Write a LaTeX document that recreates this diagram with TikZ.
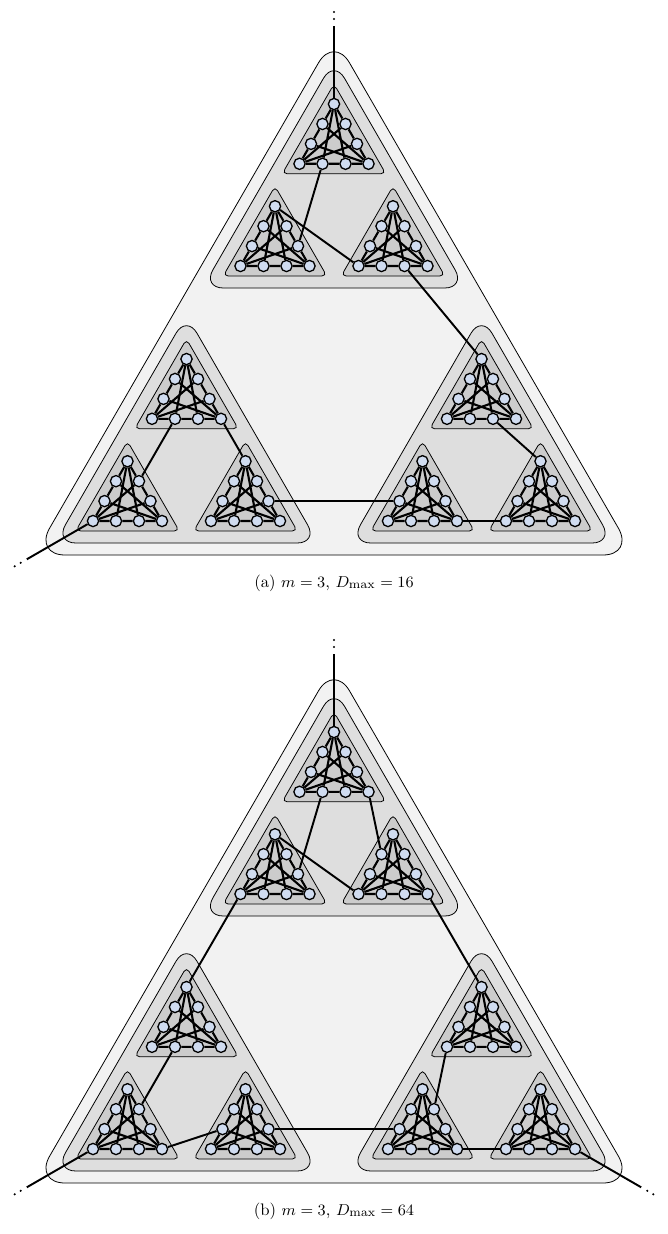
\documentclass[tikz,border=0pt]{standalone}
\usepackage{amsmath}
\usepackage{xcolor}
\definecolor{vertexblue}{RGB}{208,220,240}
\tikzset{
  vertexnode/.style={circle,draw=black,fill=vertexblue,line width=0.75pt,
    minimum size=0.225cm,inner sep=0pt},
  graphedge/.style={line width=1.2pt,black},
  linkedge/.style={line width=1.1pt,black},
  cellbox/.style={draw=black,line width=0.45pt,fill=black!20,rounded corners=0.1cm},
  groupbox/.style={draw=black,line width=0.45pt,fill=black!13,rounded corners=0.42cm},
  outerbox/.style={draw=black,line width=0.45pt,fill=black!5,rounded corners=0.62cm},
  captionnode/.style={font=\fontsize{9.5}{11}\selectfont}
}

\begin{document}
\begin{tikzpicture}[x=0.02cm,y=-0.02cm]
  \useasboundingbox (0,0) rectangle (668,1234);
  \newcommand{\tricell}[3]{%
    \begin{scope}[shift={(#2,#3)}]
      \draw[cellbox] (-17.32,10) -- (86.32,10) -- (34.5,-79.75) -- cycle;
      \node[vertexnode] (#1-b1) at (0,0) {};
      \node[vertexnode] (#1-b2) at (23,0) {};
      \node[vertexnode] (#1-b3) at (46,0) {};
      \node[vertexnode] (#1-b4) at (69,0) {};
      \node[vertexnode] (#1-l3) at (11.5,-19.92) {};
      \node[vertexnode] (#1-l2) at (23,-39.83) {};
      \node[vertexnode] (#1-t) at (34.5,-59.75) {};
      \node[vertexnode] (#1-r2) at (46,-39.83) {};
      \node[vertexnode] (#1-r3) at (57.5,-19.92) {};
      \draw[graphedge] (#1-b1) -- (#1-b2) -- (#1-b3) -- (#1-b4) -- (#1-r3)
        -- (#1-r2) -- (#1-t) -- (#1-l2) -- (#1-l3) -- (#1-b1);
      \draw[graphedge] (#1-t) -- (#1-b2) (#1-t) -- (#1-b3)
        (#1-b1) -- (#1-r2) (#1-b1) -- (#1-r3)
        (#1-b4) -- (#1-l2) (#1-b4) -- (#1-l3);
    \end{scope}}
  \newcommand{\tricluster}[3]{%
    \begin{scope}[shift={(#2,#3)}]
      \draw[groupbox] (-38.1,22) -- (225.1,22) -- (93.5,-205.95) -- cycle;
      \tricell{#11}{0}{0}
      \tricell{#12}{118}{0}
      \tricell{#13}{59}{-102.2}
    \end{scope}}
  \newcommand{\trilevel}[2]{%
    \begin{scope}[shift={(0,#2)}]
      \draw[outerbox] (34.1,555) -- (633.9,555) -- (334,36) -- cycle;
      \tricluster{#1A}{240.5}{266}
      \tricluster{#1B}{93}{521}
      \tricluster{#1C}{388}{521}
    \end{scope}}

  % (a)
  \trilevel{a}{0}
  \coordinate (a-top) at (334,26);
  \coordinate (a-sw) at (26.8,559.3);
  \fill (334,19) circle (0.65pt) (334,12) circle (0.65pt);
  \fill (20.7,562.8) circle (0.65pt) (14.7,566.3) circle (0.65pt);
  \draw[linkedge] (a-top) -- (aA3-t);
  \draw[linkedge] (aA3-b2) -- (aA1-r3);
  \draw[linkedge] (aA1-t) -- (aA2-b1);
  \draw[linkedge] (aA2-b3) -- (aC3-t);
  \draw[linkedge] (aC3-b3) -- (aC2-t);
  \draw[linkedge] (aC1-b4) -- (aC2-b1);
  \draw[linkedge] (aB2-r3) -- (aC1-l3);
  \draw[linkedge] (aB3-b4) -- (aB2-t);
  \draw[linkedge] (aB3-b2) -- (aB1-r2);
  \draw[linkedge] (aB1-b1) -- (a-sw);
  \node[captionnode] (a-caption) at (334,583) {(a) $m=3$, $D_{\max}=16$};

  % (b)
  \trilevel{b}{628}
  \coordinate (b-top) at (334,654);
  \coordinate (b-sw) at (26.8,1187.3);
  \coordinate (b-se) at (641.2,1187.3);
  \fill (334,647) circle (0.65pt) (334,640) circle (0.65pt);
  \fill (20.7,1190.8) circle (0.65pt) (14.7,1194.3) circle (0.65pt);
  \fill (647.3,1190.8) circle (0.65pt) (653.3,1194.3) circle (0.65pt);
  \draw[linkedge] (b-top) -- (bA3-t);
  \draw[linkedge] (bA3-b2) -- (bA1-r3);
  \draw[linkedge] (bA3-b4) -- (bA2-l2);
  \draw[linkedge] (bA1-t) -- (bA2-b1);
  \draw[linkedge] (bA1-b1) -- (bB3-t);
  \draw[linkedge] (bA2-b4) -- (bC3-t);
  \draw[linkedge] (bB3-b2) -- (bB1-r2);
  \draw[linkedge] (bB1-b4) -- (bB2-l3);
  \draw[linkedge] (bB2-r3) -- (bC1-l3);
  \draw[linkedge] (bC3-b1) -- (bC1-r2);
  \draw[linkedge] (bC1-b4) -- (bC2-b1);
  \draw[linkedge] (bC2-b4) -- (b-se);
  \draw[linkedge] (bB1-b1) -- (b-sw);
  \node[captionnode] (b-caption) at (334,1211) {(b) $m=3$, $D_{\max}=64$};
\end{tikzpicture}
\end{document}
